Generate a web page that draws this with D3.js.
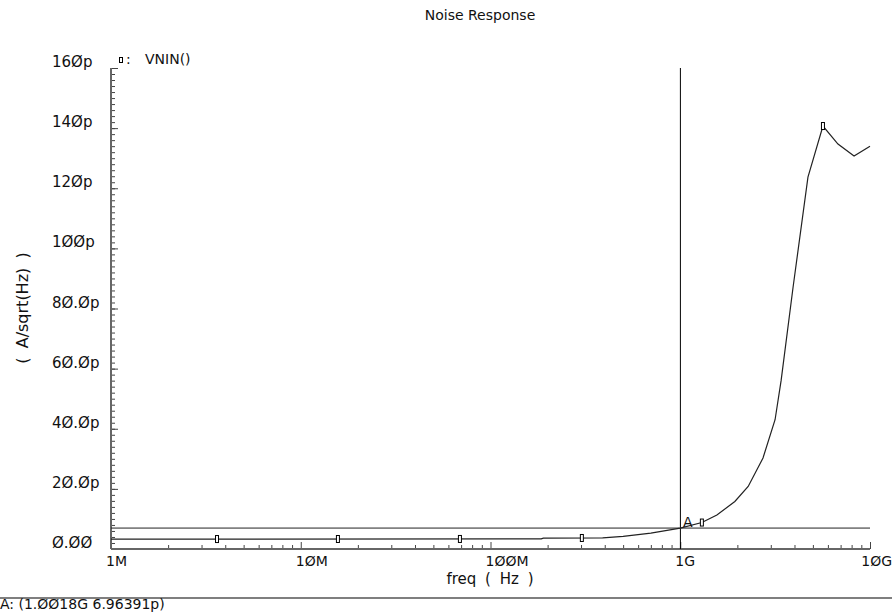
<!DOCTYPE html>
<html>
<head>
<meta charset="utf-8">
<script src="https://cdn.jsdelivr.net/npm/d3@7"></script>
<style>
  body { margin: 0; background: #fff; }
  text { font-family: "DejaVu Sans", sans-serif; fill: #111; }
</style>
</head>
<body>
<div id="chart"></div>
<script>
// noise response of VNIN(), freq in Hz, value in pA/sqrt(Hz)
const freqs = [1e6, 1.85e8, 1.9e8, 3.9e8, 5e8, 7e8, 1e9, 1.3e9, 1.56e9, 1.94e9, 2.28e9,
  2.73e9, 3.16e9, 3.4e9, 3.93e9, 4.71e9, 5.65e9, 6.78e9, 8.24e9, 1e10];
const noise = [3.3, 3.35, 3.6, 3.7, 4.2, 5.3, 6.95, 8.8, 11.3, 15.8, 20.8,
  30.3, 43, 56, 87, 123.7, 140.7, 134.7, 130.7, 134];
const markerFreqs = [3.62e6, 1.57e7, 6.9e7, 3.03e8, 1.3e9, 5.65e9];
const xTicks = [1e6, 1e7, 1e8, 1e9, 1e10];
const xTickLabels = ["1M", "1ØM", "1ØØM", "1G", "1ØG"];
const yTicks = [0, 20, 40, 60, 80, 100, 120, 140, 160];
const yTickLabels = ["Ø.ØØ", "2Ø.Øp", "4Ø.Øp", "6Ø.Øp", "8Ø.Øp", "1ØØp", "12Øp", "14Øp", "16Øp"];
const cursorA = { freq: 1.0018e9, value: 6.96391 };

const width = 892, height = 613;
const svg = d3.select("#chart").append("svg")
  .attr("width", width).attr("height", height);

const x = d3.scaleLog().domain([1e6, 1e10]).range([111, 870]);
const y = d3.scaleLinear().domain([0, 160]).range([549, 68]);

// title
svg.append("text").attr("x", 480).attr("y", 20)
  .attr("text-anchor", "middle").style("font-size", "14px")
  .text("Noise Response");

// minor + major ticks (drawn inward)
const yMinor = d3.range(0, 161, 2);
svg.append("g").attr("transform", "translate(111,0)")
  .call(d3.axisRight(y).tickValues(yMinor).tickSize(4).tickFormat(""))
  .call(g => g.select(".domain").remove())
  .selectAll("line").attr("stroke", "#444");
svg.append("g").attr("transform", "translate(111,0)")
  .call(d3.axisRight(y).tickValues(yTicks).tickSize(7).tickFormat(""))
  .call(g => g.select(".domain").remove())
  .selectAll("line").attr("stroke", "#444");

const xMinor = [];
for (let e = 6; e < 10; e++) for (let m = 2; m <= 9; m++) xMinor.push(m * Math.pow(10, e));
svg.append("g").attr("transform", "translate(0,549)")
  .call(d3.axisTop(x).tickValues(xMinor).tickSize(4).tickFormat(""))
  .call(g => g.select(".domain").remove())
  .selectAll("line").attr("stroke", "#444");
svg.append("g").attr("transform", "translate(0,549)")
  .call(d3.axisTop(x).tickValues(xTicks).tickSize(7).tickFormat(""))
  .call(g => g.select(".domain").remove())
  .selectAll("line").attr("stroke", "#444");

// axis lines
svg.append("line").attr("x1", 111).attr("x2", 111).attr("y1", y(160)).attr("y2", y(0))
  .attr("stroke", "#666").attr("stroke-width", 2);
svg.append("line").attr("x1", 111).attr("x2", 870).attr("y1", y(0)).attr("y2", y(0))
  .attr("stroke", "#666").attr("stroke-width", 2);

// tick labels
svg.selectAll("text.ylab").data(yTicks).enter().append("text")
  .attr("class", "ylab").attr("x", 52).attr("y", d => y(d) - 1)
  .style("font-size", "15px")
  .text((d, i) => yTickLabels[i]);
svg.selectAll("text.xlab").data(xTicks).enter().append("text")
  .attr("class", "xlab")
  .attr("x", (d, i) => i === xTicks.length - 1 ? 892 : x(d) - 5)
  .attr("y", 566)
  .attr("text-anchor", (d, i) => i === xTicks.length - 1 ? "end" : "start")
  .style("font-size", "14px")
  .text((d, i) => xTickLabels[i]);

svg.append("text").attr("x", 490).attr("y", 584)
  .attr("text-anchor", "middle").style("font-size", "15px")
  .style("word-spacing", "4px")
  .text("freq ( Hz )");
svg.append("text").attr("transform", "translate(28,308) rotate(-90)")
  .attr("text-anchor", "middle").style("font-size", "16px")
  .style("word-spacing", "4px")
  .text("( A/sqrt(Hz) )");

// cursor A lines
svg.append("line").attr("x1", x(cursorA.freq)).attr("x2", x(cursorA.freq))
  .attr("y1", y(160)).attr("y2", y(0)).attr("stroke", "#000");
svg.append("line").attr("x1", 111).attr("x2", 870)
  .attr("y1", y(cursorA.value)).attr("y2", y(cursorA.value)).attr("stroke", "#222");

// curve
const pts = freqs.map((f, i) => ({ f, v: noise[i] }));
svg.append("path").datum(pts)
  .attr("fill", "none").attr("stroke", "#222").attr("stroke-width", 1.2)
  .attr("d", d3.line().x(d => x(d.f)).y(d => y(d.v)));

// markers sit on the curve
const valueAt = f => {
  const lf = Math.log10(f);
  for (let i = 1; i < pts.length; i++) {
    const a = Math.log10(pts[i - 1].f), b = Math.log10(pts[i].f);
    if (lf <= b) return pts[i - 1].v + (pts[i].v - pts[i - 1].v) * (lf - a) / (b - a);
  }
  return pts[pts.length - 1].v;
};
svg.selectAll("rect.mk").data(markerFreqs).enter().append("rect")
  .attr("class", "mk")
  .attr("x", d => x(d) - 1.5).attr("y", d => y(valueAt(d)) - 3.5)
  .attr("width", 3).attr("height", 7)
  .attr("fill", "#fff").attr("stroke", "#000").attr("stroke-width", 1);

svg.append("text").attr("x", 683).attr("y", 527).style("font-size", "14px").text("A");

// legend
svg.append("rect").attr("x", 119.5).attr("y", 57.5).attr("width", 3).attr("height", 5)
  .attr("fill", "#fff").attr("stroke", "#000");
svg.append("text").attr("x", 126).attr("y", 64).style("font-size", "14px").text(":");
svg.append("text").attr("x", 145).attr("y", 64).style("font-size", "14px").text("VNIN()");

// footer
svg.append("line").attr("x1", 0).attr("x2", 892).attr("y1", 598).attr("y2", 598)
  .attr("stroke", "#555").attr("stroke-width", 1.5);
svg.append("text").attr("x", 0).attr("y", 609).style("font-size", "14px")
  .text("A: (1.ØØ18G 6.96391p)");
</script>
</body>
</html>
